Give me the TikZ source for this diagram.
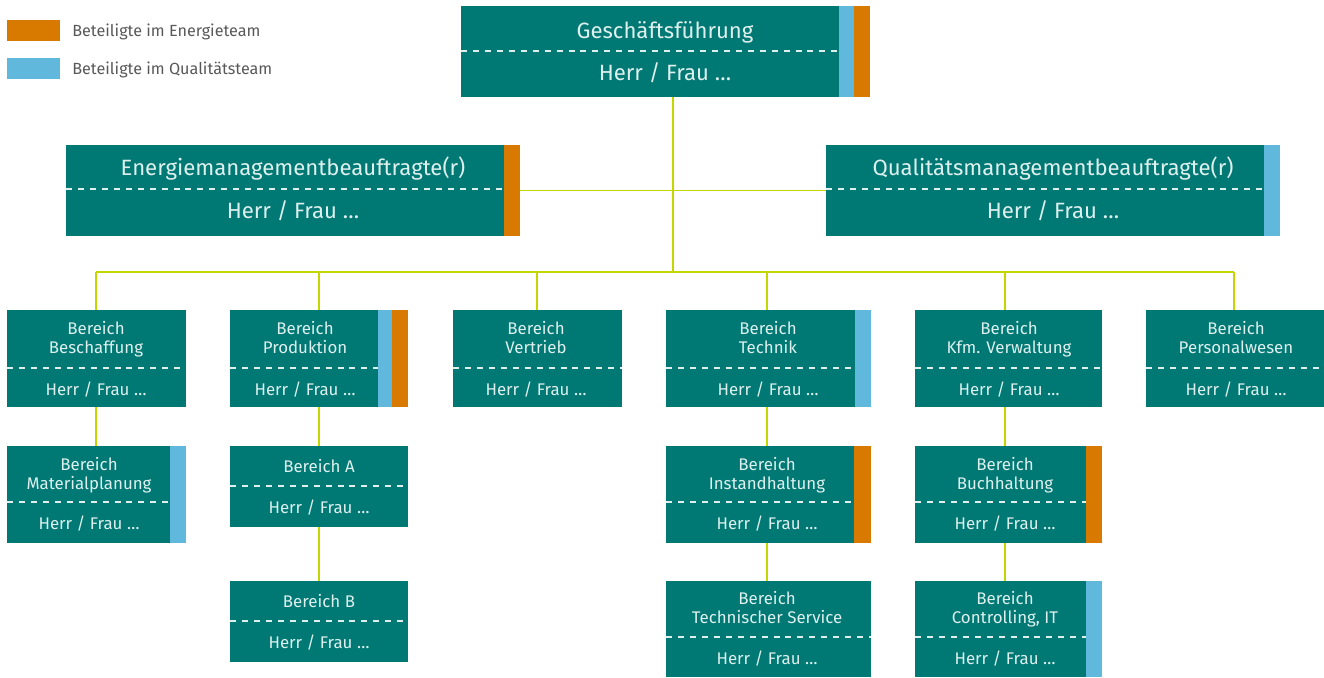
\documentclass[tikz,border=0pt]{standalone}
\usepackage{fontspec}
\setmainfont{Fira Sans}
\usetikzlibrary{fit}
\definecolor{petrol}{RGB}{0,120,116}
\definecolor{eorange}{RGB}{217,122,0}
\definecolor{qblue}{RGB}{96,184,221}
\definecolor{lime}{RGB}{196,214,0}
\definecolor{pale}{RGB}{222,240,238}
\definecolor{legendgray}{RGB}{88,88,88}
\begin{document}
\begin{tikzpicture}[x=0.02cm,y=-0.02cm,
  box/.style={fill=petrol,inner sep=0pt,outer sep=0pt},
  sep/.style={draw=pale,line width=0.6pt,dash pattern=on 3.4pt off 3.4pt},
  big/.style={text=pale,inner sep=0pt,text height=0.72em,text depth=0.22em,
    yshift=-0.06cm,font=\fontsize{12.6}{15}\selectfont},
  small/.style={text=pale,inner sep=0pt,align=center,
    execute at begin node=\strut,execute at end node=\strut,
    yshift=-0.04cm,font=\fontsize{9.6}{10.8}\selectfont},
  legend/.style={text=legendgray,inner sep=0pt,anchor=west,
    text height=0.72em,text depth=0.22em,yshift=-0.02cm,
    font=\fontsize{9.2}{11}\selectfont},
  link/.style={draw=lime,line width=1.1pt}]
  \useasboundingbox (0,0) rectangle (1324,677);
  % the legend
  \node[fill=eorange,inner sep=0pt,fit={(7,20) (60,41)}] (le) {};
  \node[fill=qblue,inner sep=0pt,fit={(7,58) (60,79)}] (lq) {};
  \node[legend] (let) at (72,31) {Beteiligte im Energieteam};
  \node[legend] (lqt) at (72,69) {Beteiligte im Qualitätsteam};
  % where the lines branch
  \coordinate (hub) at (673,272);
  \coordinate (c1) at (96,272);
  \coordinate (c2) at (319,272);
  \coordinate (c3) at (537,272);
  \coordinate (c4) at (767,272);
  \coordinate (c5) at (1005,272);
  \coordinate (c6) at (1234,272);
  % top level
  \node[box,fit={(461,6) (870,97)}] (gf) {};
  \fill[qblue] (839,6) rectangle (854,97);
  \fill[eorange] (854,6) rectangle (870,97);
  \draw[sep] (461,51) -- (839,51);
  \node[big] (gf-t) at (665,31) {Geschäftsführung};
  \node[big] (gf-n) at (665,73) {Herr / Frau \dots};
  % the two representatives
  \node[box,fit={(66,145) (520,236)}] (em) {};
  \fill[eorange] (504,145) rectangle (520,236);
  \draw[sep] (66,189) -- (504,189);
  \node[big] (em-t) at (293,168) {Energiemanagementbeauftragte(r)};
  \node[big] (em-n) at (293,211) {Herr / Frau \dots};
  \node[box,fit={(826,145) (1280,236)}] (qm) {};
  \fill[qblue] (1264,145) rectangle (1280,236);
  \draw[sep] (826,189) -- (1264,189);
  \node[big] (qm-t) at (1053,168) {Qualitätsmanagementbeauftragte(r)};
  \node[big] (qm-n) at (1053,211) {Herr / Frau \dots};
  \draw[link] (gf.south -| hub) -- (hub);
  \draw[link] (em.east) -- (qm.west);
  \draw[link] (c1) -- (c6);
  % first row of departments
  \node[box,fit={(7,310) (186,407)}] (bes) {};
  \draw[sep] (7,368) -- (186,368);
  \node[small] (bes-t) at (96,338.5) {Bereich\\Beschaffung};
  \node[small] (bes-n) at (96,390) {Herr / Frau \dots};
  \node[box,fit={(230,310) (408,407)}] (pro) {};
  \fill[qblue] (378,310) rectangle (392,407);
  \fill[eorange] (392,310) rectangle (408,407);
  \draw[sep] (230,368) -- (378,368);
  \node[small] (pro-t) at (305,338.5) {Bereich\\Produktion};
  \node[small] (pro-n) at (305,390) {Herr / Frau \dots};
  \node[box,fit={(453,310) (622,407)}] (ver) {};
  \draw[sep] (453,368) -- (622,368);
  \node[small] (ver-t) at (536,338.5) {Bereich\\Vertrieb};
  \node[small] (ver-n) at (536,390) {Herr / Frau \dots};
  \node[box,fit={(666,310) (871,407)}] (tec) {};
  \fill[qblue] (855,310) rectangle (871,407);
  \draw[sep] (666,368) -- (855,368);
  \node[small] (tec-t) at (768,338.5) {Bereich\\Technik};
  \node[small] (tec-n) at (768,390) {Herr / Frau \dots};
  \node[box,fit={(915,310) (1102,407)}] (kfm) {};
  \draw[sep] (915,368) -- (1102,368);
  \node[small] (kfm-t) at (1009,338.5) {Bereich\\Kfm. Verwaltung};
  \node[small] (kfm-n) at (1009,390) {Herr / Frau \dots};
  \node[box,fit={(1146,310) (1324,407)}] (per) {};
  \draw[sep] (1146,368) -- (1324,368);
  \node[small] (per-t) at (1236,338.5) {Bereich\\Personalwesen};
  \node[small] (per-n) at (1236,390) {Herr / Frau \dots};
  \foreach \c/\b in {c1/bes,c2/pro,c3/ver,c4/tec,c5/kfm,c6/per}
    \draw[link] (\c) -- (\c |- \b.north);
  % second row
  \node[box,fit={(7,446) (186,543)}] (mat) {};
  \fill[qblue] (170,446) rectangle (186,543);
  \draw[sep] (7,502) -- (170,502);
  \node[small] (mat-t) at (89,474) {Bereich\\Materialplanung};
  \node[small] (mat-n) at (89,524) {Herr / Frau \dots};
  \node[box,fit={(230,446) (408,527)}] (ba) {};
  \draw[sep] (230,486) -- (408,486);
  \node[small] (ba-t) at (319,467) {Bereich A};
  \node[small] (ba-n) at (319,508) {Herr / Frau \dots};
  \node[box,fit={(666,446) (871,543)}] (ins) {};
  \fill[eorange] (854,446) rectangle (871,543);
  \draw[sep] (666,502) -- (854,502);
  \node[small] (ins-t) at (767,474) {Bereich\\Instandhaltung};
  \node[small] (ins-n) at (767,524) {Herr / Frau \dots};
  \node[box,fit={(915,446) (1102,543)}] (buc) {};
  \fill[eorange] (1086,446) rectangle (1102,543);
  \draw[sep] (915,502) -- (1086,502);
  \node[small] (buc-t) at (1005,474) {Bereich\\Buchhaltung};
  \node[small] (buc-n) at (1005,524) {Herr / Frau \dots};
  \foreach \c/\a/\b in {c1/bes/mat,c2/pro/ba,c4/tec/ins,c5/kfm/buc}
    \draw[link] (\c |- \a.south) -- (\c |- \b.north);
  % third row
  \node[box,fit={(230,581) (408,662)}] (bb) {};
  \draw[sep] (230,621) -- (408,621);
  \node[small] (bb-t) at (319,602) {Bereich B};
  \node[small] (bb-n) at (319,643) {Herr / Frau \dots};
  \node[box,fit={(666,581) (871,677)}] (tse) {};
  \draw[sep] (666,637) -- (871,637);
  \node[small] (tse-t) at (767,608.5) {Bereich\\Technischer Service};
  \node[small] (tse-n) at (767,659) {Herr / Frau \dots};
  \node[box,fit={(915,581) (1102,677)}] (con) {};
  \fill[qblue] (1086,581) rectangle (1102,677);
  \draw[sep] (915,637) -- (1086,637);
  \node[small] (con-t) at (1005,608.5) {Bereich\\Controlling, IT};
  \node[small] (con-n) at (1005,659) {Herr / Frau \dots};
  \foreach \c/\a/\b in {c2/ba/bb,c4/ins/tse,c5/buc/con}
    \draw[link] (\c |- \a.south) -- (\c |- \b.north);
\end{tikzpicture}
\end{document}
